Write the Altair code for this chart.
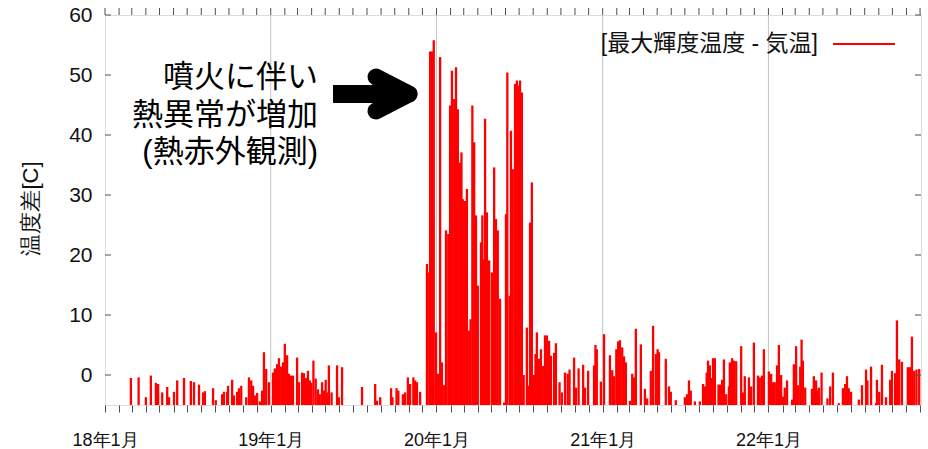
import altair as alt
import pandas as pd

# Daily difference: maximum brightness temperature minus air temperature [C]
# Observation days are counted from 2018-01-01.
quiet_days = [57, 74, 90, 101, 112, 117, 126, 137, 141, 152, 159, 174, 189, 196, 207, 216, 220,
              238, 244, 258, 262, 269, 271, 280, 284, 291, 295, 300, 311, 317, 322, 326, 330,
              335, 341, 346, 350, 355, 361, 370, 374, 379, 383, 388, 392, 396, 401, 405, 410,
              414, 423, 427, 434, 438, 443, 447, 451, 454, 459, 464, 469, 473, 478, 482, 486,
              489, 493, 499, 511, 515, 522, 566, 595, 599, 606, 630, 633, 642, 646, 656, 661,
              667, 672, 679, 683, 687, 694]
quiet_vals = [-0.5, -0.4, -3.7, -0.1, -1.3, -1.5, -2.9, -2.0, -3.7, -2.8, -0.9, -0.5, -1.0, -1.2,
              -1.6, -2.9, -2.7, -2.2, -4.2, -3.2, -2.8, -2.8, -1.8, -0.8, -3.4, -2.8, -2.2, -1.8,
              -3.7, -0.4, -0.9, -1.8, -3.4, -3.0, -4.4, -2.6, 3.8, 1.0, -1.2, 0.4, 1.1, 1.8, 2.8,
              1.4, 2.1, 5.2, 3.3, 0.2, -0.1, -0.1, 2.9, -1.2, 0.4, 0.3, -0.5, 0.7, -0.9, -1.3,
              2.4, -0.6, -2.4, -3.2, -1.2, -2.6, -0.8, -2.9, 1.6, -2.9, 1.6, -3.7, 1.3, -2.0,
              -1.5, -4.3, -3.7, -2.2, -3.7, -2.2, -2.6, -3.2, -2.9, -0.4, -1.5, -0.4, -0.9, -1.2,
              -2.8]

eruption_days = [709, 714, 716, 720, 724, 729, 733, 738, 742, 747, 751, 756, 760, 764, 769, 773,
                 777, 782, 785, 788, 793, 797, 802, 805, 809, 813, 817, 821, 828, 831, 835, 837,
                 841, 846, 852, 857, 861, 865, 870, 879, 883, 886, 891, 894, 898, 903, 907, 911,
                 914, 918, 922, 929, 933, 936, 940, 945, 948, 951, 956, 960, 965, 969, 973, 978]
eruption_vals = [18.5, 17.1, 53.9, 53.9, 55.8, 7.1, 0.2, 53.0, 2.1, -1.7, 24.1, 23.5, 44.9, 50.7,
                 46.0, 51.3, 44.3, 35.4, 37.1, 29.3, 29.0, 31.0, 7.4, 9.3, 44.9, 38.8, 26.6, 14.9,
                 22.1, 26.6, 19.3, 42.7, 27.1, 19.1, 17.1, 34.6, 26.0, 24.1, 12.7, -4.6, 26.8,
                 50.4, 13.2, 40.7, 34.3, 48.5, 49.1, 48.2, 49.1, 47.1, 0.0, 7.9, -1.8, 25.4, 32.1,
                 0.0, 3.5, 7.1, 2.7, 4.3, 1.5, 6.6, 6.6, 5.7]

after_days = [982, 989, 993, 1001, 1006, 1013, 1019, 1023, 1033, 1037, 1043, 1053, 1057, 1064,
              1077, 1080, 1083, 1092, 1099, 1112, 1117, 1121, 1126, 1130, 1134, 1139, 1143, 1147,
              1156, 1161, 1165, 1169, 1180, 1189, 1194, 1202, 1207, 1213, 1217, 1220, 1235, 1242,
              1246, 1257, 1277, 1282, 1286, 1290, 1299, 1310, 1317, 1321, 1325, 1328, 1332, 1336,
              1339, 1343, 1351, 1354, 1359, 1363, 1368, 1374, 1376, 1381, 1385, 1390, 1401, 1405,
              1409, 1418, 1423, 1429, 1438, 1442, 1447, 1451, 1462, 1467, 1471, 1475, 1480, 1484,
              1489, 1493, 1497, 1502, 1513, 1517, 1522, 1526, 1531, 1534, 1537, 1542, 1557, 1561,
              1566, 1569, 1572, 1578, 1591, 1597, 1603, 1616, 1625, 1630, 1634, 1638, 1643, 1660,
              1667, 1676, 1679, 1687, 1698, 1700, 1705, 1711, 1720, 1729, 1733, 1740, 1744, 1749,
              1755, 1768, 1773, 1777, 1782, 1787, 1793]
after_vals = [3.2, 3.7, 5.3, -1.2, -2.9, 0.4, 0.2, 0.9, 2.9, -2.1, 1.1, 1.7, -2.1, 0.7, 1.6, 5.0,
              4.3, -1.1, 6.8, 3.3, 0.8, -0.2, 4.3, 5.6, 5.8, 4.6, 3.1, 2.1, -4.3, 0.2, -0.4, 7.7,
              5.1, -2.3, -3.9, 0.7, 8.2, 3.5, 4.3, 3.8, 2.7, -1.9, -2.8, -4.2, -3.7, -3.2, -0.9,
              -2.6, -4.4, -4.4, -1.5, -1.9, 0.4, 2.4, 1.6, -0.5, 2.8, 2.8, -1.6, -1.6, -0.8, 2.6,
              -3.2, -1.9, 2.1, 2.8, 2.4, 2.3, 4.8, -2.9, -0.2, -0.4, -1.9, 5.4, -0.1, -0.4, -0.1,
              4.3, 0.6, 0.2, -1.2, -1.2, 1.6, 5.0, 0.0, -3.6, -2.1, -0.9, -4.1, 1.8, 4.8, -1.7,
              1.4, 5.9, 2.4, -2.1, -2.3, -0.2, -0.9, -2.6, -2.1, 0.4, -3.9, -1.9, 0.4, -4.7, -2.2,
              -1.5, -0.2, -2.2, -2.8, -4.1, -1.7, 0.9, -0.9, 1.4, -4.7, -0.8, -2.8, 1.7, -3.7,
              -0.8, 0.7, 0.3, 9.1, 2.6, 2.2, 1.3, 1.3, 6.4, 0.7, 0.9, 1.0]

y_ticks = [0, 10, 20, 30, 40, 50, 60]
y_title = "温度差[C]"
legend_label = "[最大輝度温度 - 気温]"
note_lines = ["噴火に伴い", "熱異常が増加", "(熱赤外観測)"]

FONT = "Liberation Sans, Noto Sans CJK JP"
RED = "#ff0000"
FRAME = "#505050"
W, H = 816, 390
Y_MIN, Y_MAX = -5, 60

origin = pd.Timestamp("2018-01-01")


def to_dates(days):
    return (origin + pd.to_timedelta(days, unit="D")).strftime("%Y-%m-%d")


obs = pd.DataFrame({
    "date": list(to_dates(quiet_days)) + list(to_dates(eruption_days)) + list(to_dates(after_days)),
    "value": quiet_vals + eruption_vals + after_vals,
})

months = pd.date_range("2018-01-01", "2022-12-01", freq="MS", tz="UTC")
month_ms = [int(t.value // 10**6) for t in months]
months_df = pd.DataFrame({"date": months.strftime("%Y-%m-%d")})
years_df = pd.DataFrame({"date": ["2019-01-01", "2020-01-01", "2021-01-01", "2022-01-01"]})
ticks_df = pd.DataFrame({"value": y_ticks})

x_start = int(pd.Timestamp("2018-01-01", tz="UTC").value // 10**6)
x_end = int(pd.Timestamp("2022-12-03", tz="UTC").value // 10**6)
x_scale = alt.Scale(type="utc", domain=[x_start, x_end])
y_scale = alt.Scale(domain=[Y_MIN, Y_MAX], nice=False, zero=False)

x_axis = alt.Axis(
    values=month_ms,
    labelExpr="utcFormat(datum.value, '%m') == '01' ? utcFormat(datum.value, '%y') + '年1月' : ''",
    tickSize=7, tickColor=FRAME, tickWidth=1, domain=False, grid=False,
    labelFontSize=18, labelPadding=19, labelFlush=False, labelOverlap=False,
    labelColor="#111111", title=None,
)
y_axis = alt.Axis(
    values=y_ticks, tickSize=0, domain=False, grid=False,
    labelFontSize=21, labelPadding=13, labelColor="#111111",
    title=y_title, titleFontSize=22, titleFontWeight="normal", titleColor="#111111",
    titleX=-75, titleY=193, titleAngle=-90, titleAlign="center", titleBaseline="middle",
)

X = alt.X("date:T", scale=x_scale, axis=x_axis)
Y = alt.Y("value:Q", scale=y_scale, axis=y_axis)

# yearly vertical grid lines, drawn under the bars
grid = alt.Chart(years_df).mark_rule(color="#c4c4c4", strokeWidth=1).encode(x=X)

bars = alt.Chart(obs).mark_rule(color=RED, strokeWidth=2.3).encode(
    x=X, y=Y, y2=alt.datum(Y_MIN),
)

# monthly ticks along the top border, pointing outward
top_ticks = alt.Chart(months_df).mark_rule(color=FRAME, strokeWidth=1).encode(
    x=X, y=alt.value(-7), y2=alt.value(0),
)

# inward ticks on the left and right borders
left_ticks = alt.Chart(ticks_df).mark_rule(color=FRAME, strokeWidth=1).encode(
    y=Y, x=alt.value(0), x2=alt.value(6),
)
right_ticks = alt.Chart(ticks_df).mark_rule(color=FRAME, strokeWidth=1).encode(
    y=Y, x=alt.value(W - 6), x2=alt.value(W),
)

# legend: label on the left, line sample on the right
legend_text = alt.Chart().mark_text(
    font=FONT, fontSize=23, align="right", baseline="middle", color="#111111"
).encode(x=alt.value(713), y=alt.value(29), text=alt.value(legend_label))
legend_line = alt.Chart().mark_rule(color=RED, strokeWidth=2).encode(
    x=alt.value(728), x2=alt.value(790), y=alt.value(29)
)

# annotation text and arrow
note = alt.Chart().mark_text(
    font=FONT, fontSize=31, align="right", baseline="middle", color="#000000", lineHeight=37.5
).encode(x=alt.value(213), y=alt.value(63), text=alt.value(note_lines))

shaft = alt.Chart().mark_rule(color="#000000", strokeWidth=18, strokeCap="butt").encode(
    x=alt.value(228), x2=alt.value(300), y=alt.value(79)
)
arm_up = alt.Chart().mark_rule(color="#000000", strokeWidth=17, strokeCap="round").encode(
    x=alt.value(271), x2=alt.value(304), y=alt.value(62), y2=alt.value(79)
)
arm_down = alt.Chart().mark_rule(color="#000000", strokeWidth=17, strokeCap="round").encode(
    x=alt.value(271), x2=alt.value(304), y=alt.value(96), y2=alt.value(79)
)

chart = alt.layer(
    grid, bars, top_ticks, left_ticks, right_ticks,
    legend_text, legend_line, note, shaft, arm_up, arm_down,
).properties(
    width=W, height=H,
    autosize=alt.AutoSizeParams(type="none"),
    padding={"left": 105, "top": 15, "right": 7, "bottom": 44},
).configure_view(
    stroke=FRAME, strokeWidth=1
).configure_axis(
    labelFont=FONT, titleFont=FONT
).configure(background="white")

chart.save("out.html", embed_options={"renderer": "svg", "actions": False})
